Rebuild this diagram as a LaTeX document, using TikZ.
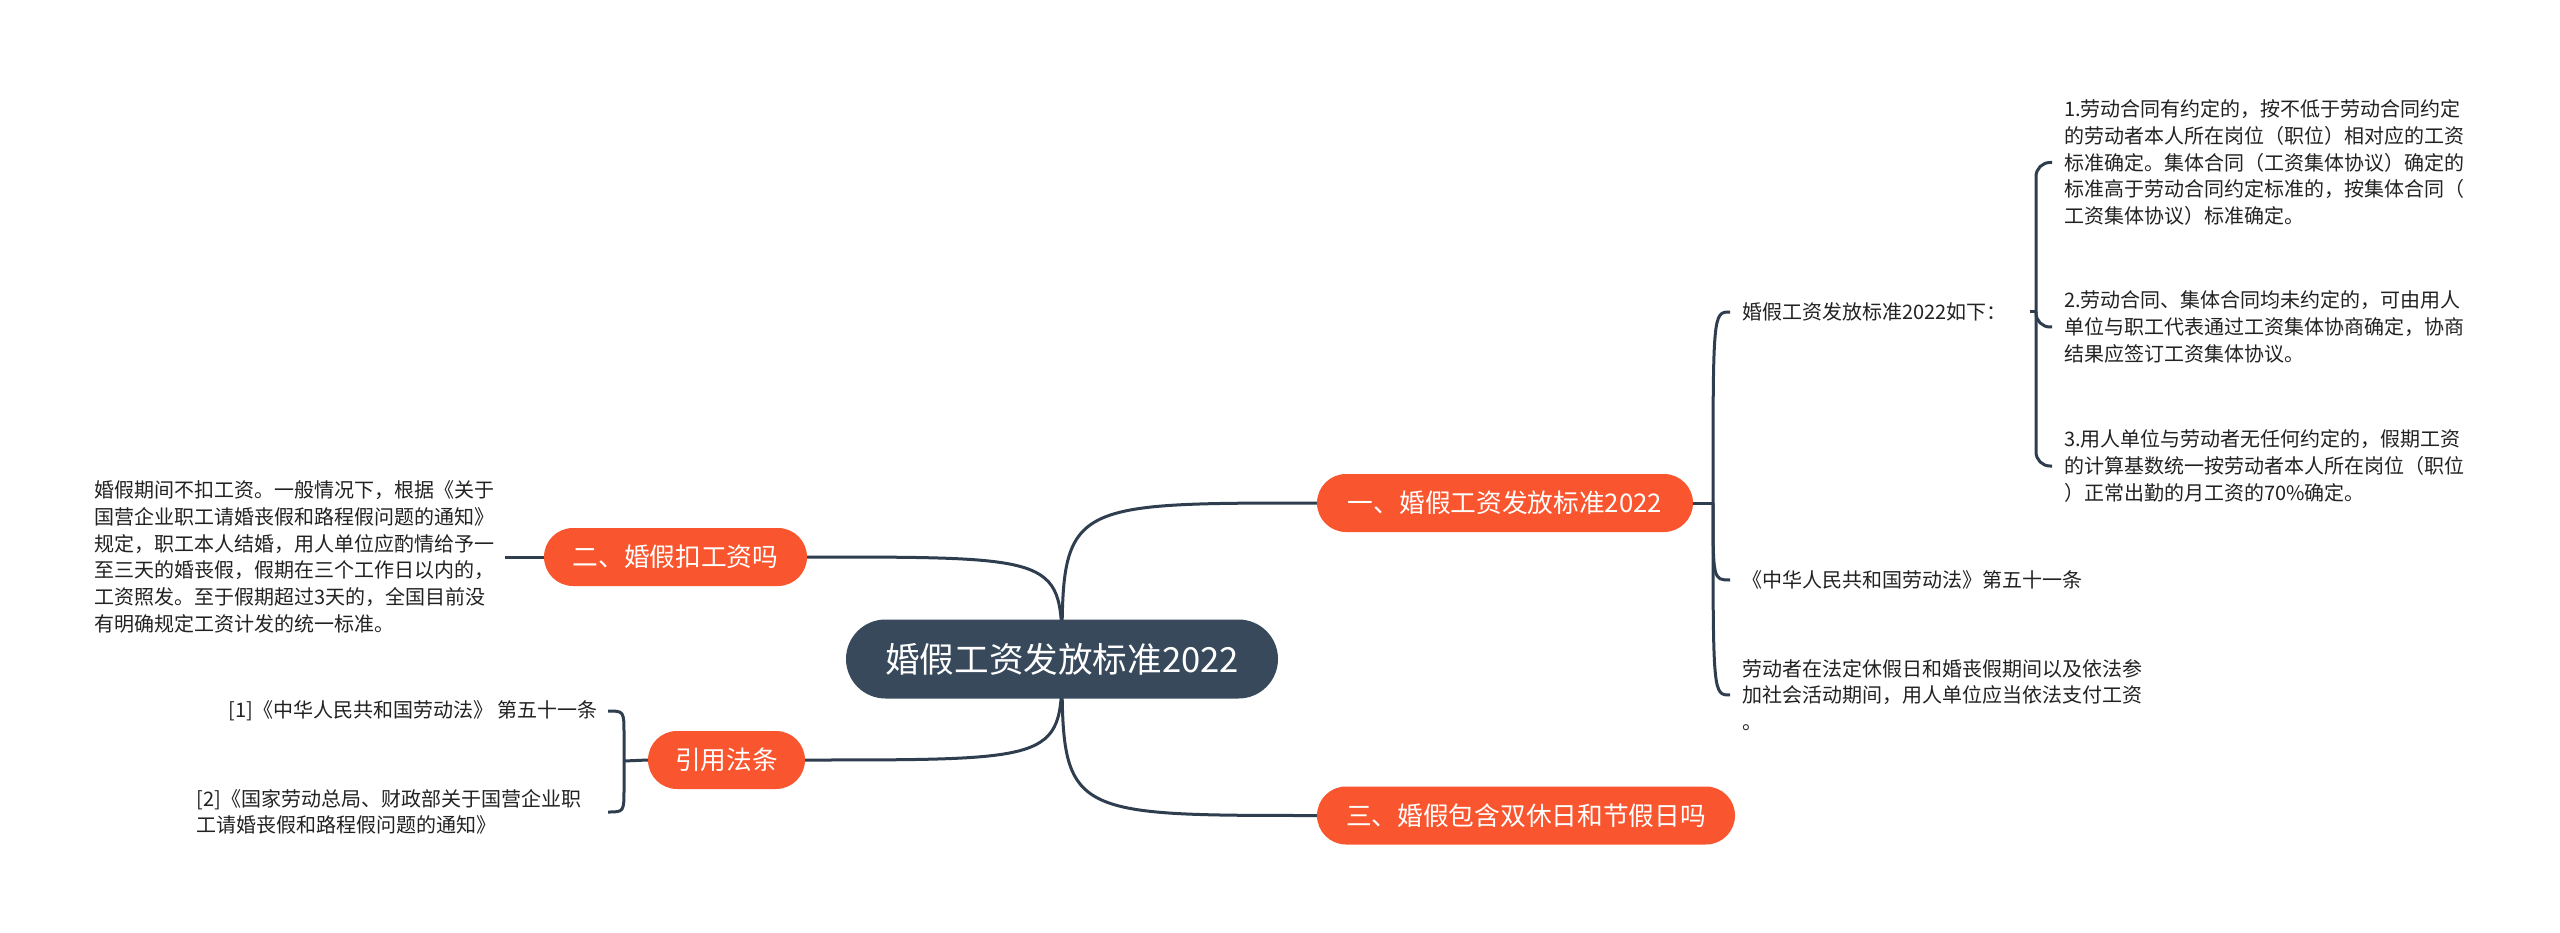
\documentclass[tikz,border=0pt]{standalone}
\usepackage{fontspec}
\setmainfont{Noto Sans CJK SC}
\usetikzlibrary{calc}
\definecolor{slate}{HTML}{37495B}
\definecolor{linec}{HTML}{2E3E4E}
\definecolor{orng}{HTML}{F9552E}
\definecolor{txt}{HTML}{222222}
\pgfdeclarelayer{bg}
\pgfsetlayers{bg,main}
\begin{document}
\begin{tikzpicture}[x=1pt,y=-1pt,
  rootbox/.style={fill=slate, text=white, rounded corners=39.5pt, minimum height=79pt, minimum width=432pt, inner sep=0pt, font=\fontsize{34.6}{40}\selectfont},
  mainbox/.style={fill=orng, text=white, rounded corners=29pt, minimum height=58pt, inner sep=0pt, font=\fontsize{25.7}{30}\selectfont},
  leaf/.style={text=txt, inner ysep=0pt, font=\fontsize{20}{26.7}\selectfont},
  conn/.style={draw=linec, line width=3pt},
  brk/.style={draw=linec, line width=3pt, rounded corners=14pt},
]
\useasboundingbox (0,0) rectangle (2560,933);
% main nodes
\node[rootbox] (root) at (1062,659) {婚假工资发放标准2022};
\node[mainbox, minimum width=376pt] (b1) at (1505,503) {一、婚假工资发放标准2022};
\node[mainbox, minimum width=263pt] (b2) at (675.5,557) {二、婚假扣工资吗};
\node[mainbox, minimum width=418pt] (b3) at (1526,815.5) {三、婚假包含双休日和节假日吗};
\node[mainbox, minimum width=157pt] (b4) at (726.5,760) {引用法条};
% right leaves
\node[leaf, inner xsep=12pt, anchor=west] (l1a) at (1730,312) {婚假工资发放标准2022如下：};
\node[leaf, inner xsep=12pt, anchor=west] (l1b) at (1730,580) {《中华人民共和国劳动法》第五十一条};
\node[leaf, inner xsep=12pt, anchor=west, align=left] (l1c) at (1730,695) {劳动者在法定休假日和婚丧假期间以及依法参\\加社会活动期间，用人单位应当依法支付工资\\。};
\node[leaf, inner xsep=12pt, anchor=west, align=left] (s1) at (2052,162.5) {1.劳动合同有约定的，按不低于劳动合同约定\\的劳动者本人所在岗位（职位）相对应的工资\\标准确定。集体合同（工资集体协议）确定的\\标准高于劳动合同约定标准的，按集体合同（\\工资集体协议）标准确定。};
\node[leaf, inner xsep=12pt, anchor=west, align=left] (s2) at (2052,327) {2.劳动合同、集体合同均未约定的，可由用人\\单位与职工代表通过工资集体协商确定，协商\\结果应签订工资集体协议。};
\node[leaf, inner xsep=12pt, anchor=west, align=left] (s3) at (2052,466) {3.用人单位与劳动者无任何约定的，假期工资\\的计算基数统一按劳动者本人所在岗位（职位\\）正常出勤的月工资的70\%确定。};
% left leaves
\node[leaf, inner xsep=10pt, anchor=east, align=left] (l2) at (505,557) {婚假期间不扣工资。一般情况下，根据《关于\\国营企业职工请婚丧假和路程假问题的通知》\\规定，职工本人结婚，用人单位应酌情给予一\\至三天的婚丧假，假期在三个工作日以内的，\\工资照发。至于假期超过3天的，全国目前没\\有明确规定工资计发的统一标准。};
\node[leaf, inner xsep=10pt, anchor=east, align=right] (c1) at (608,711) {[1]《中华人民共和国劳动法》 第五十一条};
\node[leaf, inner xsep=10pt, anchor=east, align=left, text width=401pt] (c2) at (608,812) {[2]《国家劳动总局、财政部关于国营企业职\\工请婚丧假和路程假问题的通知》};
% junctions
\coordinate (j1) at (1713,503);
\coordinate (j2) at (2036,312);
\coordinate (j4) at (624,761);
\begin{pgfonlayer}{bg}
\fill[white] (0,0) rectangle (2560,933);
\draw[conn] (root.center) .. controls (root.center |- b1.west) .. (b1.west);
\draw[conn] (root.center) .. controls (root.center |- b2.east) .. (b2.east);
\draw[conn] (root.center) .. controls (root.center |- b3.west) .. (b3.west);
\draw[conn] (root.center) .. controls (root.center |- b4.east) .. (b4.east);
\draw[conn] (b1.east) -- (j1);
\draw[conn] (j1) .. controls (j1 |- l1a.west) .. (l1a.west);
\draw[conn] (j1) .. controls (j1 |- l1b.west) .. (l1b.west);
\draw[conn] (j1) .. controls (j1 |- l1c.west) .. (l1c.west);
\draw[conn] ($(l1a.east)+(11,0)$) -- (j2);
\draw[brk] (j2) |- (s1.west);
\draw[brk] (j2) |- (s2.west);
\draw[brk] (j2) |- (s3.west);
\draw[conn] (l2.east) -- (b2.west);
\draw[conn] (b4.west) -- (j4);
\draw[conn] (j4) -- ($(j4 |- c1.east)+(0,24)$) .. controls (j4 |- c1.east) .. (c1.east);
\draw[conn] (j4) -- ($(j4 |- c2.east)+(0,-24)$) .. controls (j4 |- c2.east) .. (c2.east);
\end{pgfonlayer}
\end{tikzpicture}
\end{document}
